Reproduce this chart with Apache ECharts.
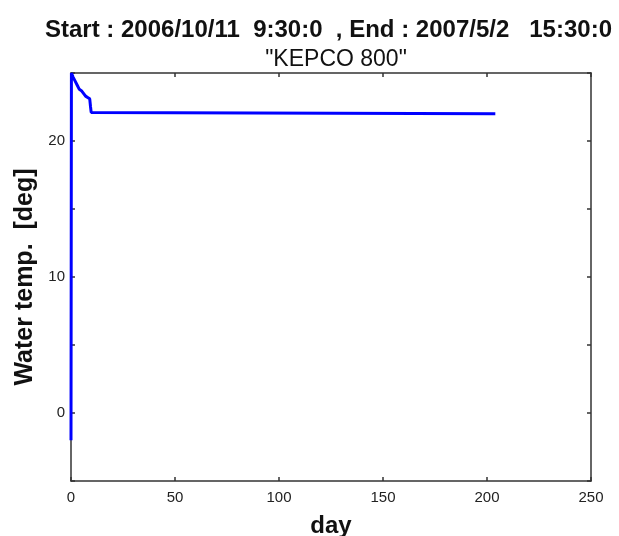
<!DOCTYPE html>
<html><head><meta charset="utf-8">
<script src="https://cdn.jsdelivr.net/npm/echarts@6/dist/echarts.min.js"></script>
<style>html,body{margin:0;padding:0;background:#fff;overflow:hidden}#c{width:619px;height:536px}</style>
</head><body><div id="c"></div>
<script>
const titleLine1 = 'Start : 2006/10/11  9:30:0  , End : 2007/5/2   15:30:0';
const titleLine2 = '"KEPCO 800"';
const xName = 'day';
const yName = 'Water temp.  [deg]';
const days = [0, 0.2, 1.0, 2.0, 3.0, 4.0, 5.0, 6.0, 7.0, 8.0, 9.0, 9.4, 9.7, 10.2, 204.0];
const temps = [-2.0, 25.0, 24.7, 24.4, 24.1, 23.8, 23.7, 23.5, 23.3, 23.2, 23.1, 22.5, 22.1, 22.0, 22.0];
const xMin = 0, xMax = 250, xStep = 50;
const yMin = -5, yMax = 25, yStep = 5, yLabelStep = 10;

const chart = echarts.init(document.getElementById('c'), null, {renderer: 'canvas', width: 619, height: 536});
const FONT = 'Liberation Sans, Arial, sans-serif';
const frameLine = {show: true, onZero: false, lineStyle: {color: '#333', width: 1.5}};
const tick = {show: true, inside: true, length: 4, lineStyle: {color: '#333', width: 1.5}};
const lblFont = {fontFamily: FONT, fontSize: 15, color: '#222'};
chart.setOption({
  animation: false,
  title: [
    {text: titleLine1, left: 40, top: 13, textAlign: 'left',
     textStyle: {fontFamily: FONT, fontWeight: 'bold', fontSize: 24, color: '#111'}},
    {text: titleLine2, left: 331, top: 43, textAlign: 'center',
     textStyle: {fontFamily: FONT, fontWeight: 'normal', fontSize: 23, color: '#111'}}
  ],
  grid: {left: 71, width: 520, top: 73, height: 408, containLabel: false, outerBoundsMode: 'none'},
  xAxis: [
    {type: 'value', min: xMin, max: xMax, interval: xStep, position: 'bottom',
     name: xName, nameLocation: 'middle', nameGap: 33,
     nameTextStyle: {fontFamily: FONT, fontWeight: 'bold', fontSize: 24, color: '#111'},
     axisLine: frameLine, axisTick: tick, splitLine: {show: false},
     axisLabel: Object.assign({margin: 9}, lblFont)},
    {type: 'value', min: xMin, max: xMax, interval: xStep, position: 'top',
     axisLine: frameLine, axisTick: tick, splitLine: {show: false}, axisLabel: {show: false}}
  ],
  yAxis: [
    {type: 'value', min: yMin, max: yMax, interval: yStep, position: 'left',
     name: yName, nameLocation: 'middle', nameGap: 24,
     nameTextStyle: {fontFamily: FONT, fontWeight: 'bold', fontSize: 25, color: '#111'},
     axisLine: frameLine, axisTick: tick, splitLine: {show: false},
     axisLabel: Object.assign({margin: 6, formatter: v => (v % yLabelStep === 0 && v >= 0 ? String(v) : '')}, lblFont)},
    {type: 'value', min: yMin, max: yMax, interval: yStep, position: 'right',
     axisLine: frameLine, axisTick: tick, splitLine: {show: false}, axisLabel: {show: false}}
  ],
  series: [{
    type: 'line', xAxisIndex: 0, yAxisIndex: 0, showSymbol: false, symbol: 'none',
    data: days.map((d, i) => [d, temps[i]]),
    lineStyle: {color: '#0000ff', width: 3}
  }]
});
</script></body></html>
